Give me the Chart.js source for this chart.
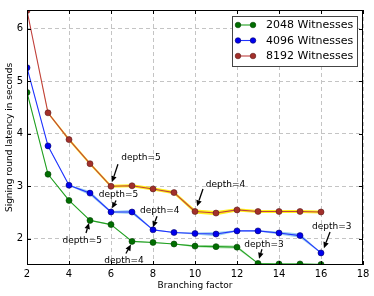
<!DOCTYPE html>
<html>
<head>
<meta charset="utf-8">
<script src="https://cdn.jsdelivr.net/npm/chart.js@4/dist/chart.umd.min.js"></script>
<style>
  html, body { margin: 0; padding: 0; background: #fff; }
  #wrap { width: 374px; height: 296px; position: relative; }
</style>
</head>
<body>
<div id="wrap"><canvas id="chart" width="374" height="296"></canvas></div>
<script>
// branching factor on x
const branching = [2, 3, 4, 5, 6, 7, 8, 9, 10, 11, 12, 13, 14, 15, 16];

// signing round latency (s)
const lat2048 = [4.79, 3.23, 2.73, 2.35, 2.27, 1.95, 1.93, 1.90, 1.86, 1.85, 1.84, 1.53, 1.52, 1.52, 1.51];
const lat4096 = [5.26, 3.77, 3.02, 2.87, 2.51, 2.51, 2.17, 2.12, 2.10, 2.09, 2.15, 2.15, 2.11, 2.06, 1.73];
const lat8192 = [6.35, 4.40, 3.89, 3.43, 3.00, 3.01, 2.95, 2.88, 2.52, 2.49, 2.55, 2.52, 2.52, 2.52, 2.51];

// spread around each curve (shaded band)
const err2048 = [0.01, 0.01, 0.01, 0.01, 0.01, 0.01, 0.01, 0.01, 0.02, 0.03, 0.03, 0.01, 0.02, 0.02, 0.02];
const err4096 = [0.01, 0.01, 0.01, 0.04, 0.02, 0.04, 0.01, 0.01, 0.02, 0.04, 0.01, 0.01, 0.03, 0.04, 0.01];
const err8192 = [0.00, 0.02, 0.03, 0.03, 0.03, 0.03, 0.03, 0.03, 0.04, 0.04, 0.03, 0.03, 0.03, 0.03, 0.03];

const seriesNames = ["2048 Witnesses", "4096 Witnesses", "8192 Witnesses"];

const xTicks = [2, 4, 6, 8, 10, 12, 14, 16, 18];
const yTicks = [2, 3, 4, 5, 6];

// annotation text at (tx,ty), arrow from (ax,ay) to (px,py), data units
const notes = [
  { text: "depth=5", tx: 7.43, ty: 3.55, ax: 6.33, ay: 3.42, px: 6.05, py: 3.08 },
  { text: "depth=5", tx: 6.36, ty: 2.84, ax: 6.24, ay: 2.73, px: 6.05, py: 2.58 },
  { text: "depth=5", tx: 4.63, ty: 1.97, ax: 4.81, ay: 2.11, px: 4.95, py: 2.30 },
  { text: "depth=4", tx: 6.62, ty: 1.59, ax: 6.71, ay: 1.72, px: 6.95, py: 1.89 },
  { text: "depth=4", tx: 8.32, ty: 2.54, ax: 8.19, ay: 2.43, px: 8.00, py: 2.22 },
  { text: "depth=4", tx: 11.45, ty: 3.04, ax: 10.38, ay: 2.95, px: 10.10, py: 2.62 },
  { text: "depth=3", tx: 13.29, ty: 1.89, ax: 13.19, ay: 1.80, px: 13.05, py: 1.62 },
  { text: "depth=3", tx: 16.51, ty: 2.24, ax: 16.43, ay: 2.13, px: 16.14, py: 1.82 },
];

const FONT = "'DejaVu Sans', sans-serif";

const styles = [
  { line: "#22a022", fill: "#006e00", edge: "#003f00", band: "rgba(120,205,120,0.55)" },
  { line: "#2233ff", fill: "#0000ee", edge: "#00006a", band: "rgba(120,190,235,0.75)" },
  { line: "#c04040", fill: "#a3302b", edge: "#5a1a18", band: "rgba(255,238,0,0.9)" },
];

function pts(vals, errs, sign) {
  return branching.map((b, i) => ({ x: b, y: vals[i] + sign * errs[i] }));
}

const allVals = [lat2048, lat4096, lat8192];
const allErrs = [err2048, err4096, err8192];

const datasets = [];
allVals.forEach((vals, k) => {
  const s = styles[k];
  datasets.push({
    label: seriesNames[k],
    data: pts(vals, allErrs[k], 0),
    borderColor: s.line,
    backgroundColor: s.fill,
    pointBackgroundColor: s.fill,
    pointBorderColor: s.edge,
    pointBorderWidth: 0.6,
    pointRadius: 3,
    borderWidth: 1.1,
    tension: 0,
    fill: false,
    order: 0,
  });
});
allVals.forEach((vals, k) => {
  const s = styles[k];
  datasets.push({
    label: "low" + k,
    data: pts(vals, allErrs[k], -1),
    borderWidth: 0,
    pointRadius: 0,
    fill: false,
    order: 10 + k,
  });
  datasets.push({
    label: "high" + k,
    data: pts(vals, allErrs[k], 1),
    borderWidth: 0,
    pointRadius: 0,
    fill: "-1",
    backgroundColor: s.band,
    order: 10 + k,
  });
});

const decor = {
  id: "decor",
  afterDatasetsDraw(chart) {
    const { ctx, chartArea: a, scales } = chart;
    const xs = scales.x, ys = scales.y;
    ctx.save();
    // frame
    ctx.strokeStyle = "#000";
    ctx.lineWidth = 1;
    ctx.strokeRect(a.left + 0.5, a.top + 0.5, a.right - a.left - 1, a.bottom - a.top - 1);
    // inward tick marks
    ctx.beginPath();
    xTicks.forEach(v => {
      const p = Math.round(xs.getPixelForValue(v)) + 0.5;
      ctx.moveTo(p, a.bottom); ctx.lineTo(p, a.bottom - 4);
      ctx.moveTo(p, a.top); ctx.lineTo(p, a.top + 4);
    });
    yTicks.forEach(v => {
      const p = Math.round(ys.getPixelForValue(v)) + 0.5;
      ctx.moveTo(a.left, p); ctx.lineTo(a.left + 4, p);
      ctx.moveTo(a.right, p); ctx.lineTo(a.right - 4, p);
    });
    ctx.stroke();

    // annotations
    ctx.font = "9px " + FONT;
    ctx.fillStyle = "#000";
    ctx.textAlign = "center";
    ctx.textBaseline = "middle";
    notes.forEach(n => {
      ctx.fillText(n.text, xs.getPixelForValue(n.tx), ys.getPixelForValue(n.ty));
      const x0 = xs.getPixelForValue(n.ax), y0 = ys.getPixelForValue(n.ay);
      const x1 = xs.getPixelForValue(n.px), y1 = ys.getPixelForValue(n.py);
      const ang = Math.atan2(y1 - y0, x1 - x0);
      const hl = 6, hw = 2.8;
      const bx = x1 - hl * Math.cos(ang), by = y1 - hl * Math.sin(ang);
      ctx.strokeStyle = "#000";
      ctx.lineWidth = 1.3;
      ctx.beginPath();
      ctx.moveTo(x0, y0);
      ctx.lineTo(bx, by);
      ctx.stroke();
      ctx.beginPath();
      ctx.moveTo(x1, y1);
      ctx.lineTo(bx + hw * Math.sin(ang), by - hw * Math.cos(ang));
      ctx.lineTo(bx - hw * Math.sin(ang), by + hw * Math.cos(ang));
      ctx.closePath();
      ctx.fill();
    });

    // legend box
    const lx = a.right - 131, ly = a.top + 6, lw = 125, lh = 50;
    ctx.fillStyle = "#fff";
    ctx.fillRect(lx, ly, lw, lh);
    ctx.strokeStyle = "#444";
    ctx.lineWidth = 1;
    ctx.strokeRect(lx + 0.5, ly + 0.5, lw, lh);
    ctx.font = "11px " + FONT;
    ctx.textAlign = "left";
    seriesNames.forEach((name, k) => {
      const s = styles[k];
      const yy = ly + 9 + k * 15.5;
      ctx.strokeStyle = s.line;
      ctx.lineWidth = 1.1;
      ctx.beginPath();
      ctx.moveTo(lx + 6, yy);
      ctx.lineTo(lx + 21, yy);
      ctx.stroke();
      [lx + 6, lx + 21].forEach(px => {
        ctx.beginPath();
        ctx.arc(px, yy, 2.8, 0, Math.PI * 2);
        ctx.fillStyle = s.fill;
        ctx.fill();
        ctx.strokeStyle = s.edge;
        ctx.lineWidth = 0.6;
        ctx.stroke();
      });
      ctx.fillStyle = "#000";
      ctx.fillText(name, lx + 34, yy + 0.5);
    });
    ctx.restore();
  },
};

new Chart(document.getElementById("chart"), {
  type: "line",
  data: { datasets },
  options: {
    responsive: false,
    animation: false,
    devicePixelRatio: 1,
    layout: { padding: { top: 5, right: 11, left: 0, bottom: 0 } },
    plugins: { legend: { display: false }, tooltip: { enabled: false } },
    elements: { line: { borderJoinStyle: "round" } },
    scales: {
      x: {
        type: "linear",
        min: 2,
        max: 18,
        afterBuildTicks: s => { s.ticks = xTicks.map(v => ({ value: v })); },
        afterFit: s => { s.height = 31; },
        grid: { color: "#c4c4c4", lineWidth: 1, drawTicks: false },
        border: { display: false, dash: [4, 3] },
        ticks: { color: "#000", padding: 3, font: { family: FONT, size: 10 }, maxRotation: 0 },
        title: { display: true, text: "Branching factor", color: "#000", font: { family: FONT, size: 9 }, padding: { top: 0, bottom: 5 } },
      },
      y: {
        type: "linear",
        min: 1.5,
        max: 6.36,
        afterBuildTicks: s => { s.ticks = yTicks.map(v => ({ value: v })); },
        afterFit: s => { s.width = 27; },
        grid: { color: "#c4c4c4", lineWidth: 1, drawTicks: false },
        border: { display: false, dash: [4, 3] },
        ticks: { color: "#000", padding: 4, font: { family: FONT, size: 10 } },
        title: { display: true, text: "Signing round latency in seconds", color: "#000", font: { family: FONT, size: 9 }, padding: { top: 4, bottom: 0 } },
      },
    },
  },
  plugins: [decor],
});
</script>
</body>
</html>
